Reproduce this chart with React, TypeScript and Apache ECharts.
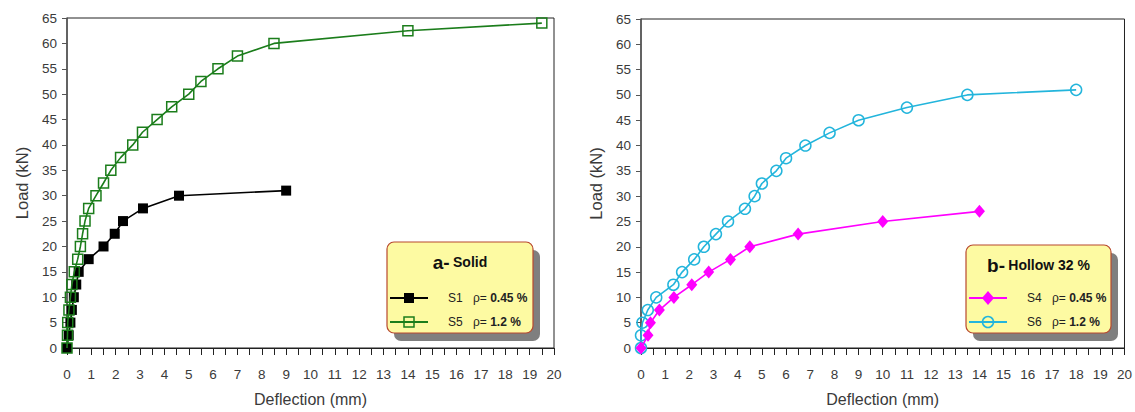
import React, { useEffect, useRef } from "react";
import * as echarts from "echarts";

// ---- Data ----
const s1Deflection = [0, 0.07, 0.14, 0.2, 0.28, 0.38, 0.48, 0.89, 1.5, 1.96, 2.3, 3.12, 4.6, 9.0];
const s1Load = [0, 2.5, 5, 7.5, 10, 12.5, 15, 17.5, 20, 22.5, 25, 27.5, 30, 31];

const s5Deflection = [0, 0.02, 0.03, 0.08, 0.14, 0.2, 0.3, 0.44, 0.55, 0.64, 0.74, 0.89, 1.19, 1.5, 1.8, 2.2, 2.7, 3.1, 3.7, 4.3, 5.0, 5.5, 6.2, 7.0, 8.5, 14.0, 19.5];
const s5Load = [0, 2.5, 5, 7.5, 10, 12.5, 15, 17.5, 20, 22.5, 25, 27.5, 30, 32.5, 35, 37.5, 40, 42.5, 45, 47.5, 50, 52.5, 55, 57.5, 60, 62.5, 64];

const s4Deflection = [0, 0.29, 0.39, 0.76, 1.36, 2.1, 2.8, 3.7, 4.5, 6.5, 10.0, 14.0];
const s4Load = [0, 2.5, 5, 7.5, 10, 12.5, 15, 17.5, 20, 22.5, 25, 27];

const s6Deflection = [0, 0, 0.06, 0.28, 0.63, 1.34, 1.7, 2.2, 2.6, 3.1, 3.6, 4.3, 4.7, 5.0, 5.6, 6.0, 6.8, 7.8, 9.0, 11.0, 13.5, 18.0];
const s6Load = [0, 2.5, 5, 7.5, 10, 12.5, 15, 17.5, 20, 22.5, 25, 27.5, 30, 32.5, 35, 37.5, 40, 42.5, 45, 47.5, 50, 51];

const panelTitlesLetter = ["a-", "b-"];
const panelTitlesText = ["Solid", "Hollow 32 %"];
const seriesNamesA = ["S1", "S5"];
const seriesNamesB = ["S4", "S6"];
const ratios = ["0.45 %", "1.2 %"];

const xAxisName = "Deflection (mm)";
const yAxisName = "Load (kN)";

const pairs = (xs: number[], ys: number[]) => xs.map((x, i) => [x, ys[i]]);

const BLACK = "#000000";
const GREEN = "#1b7d1b";
const MAGENTA = "#ff00ff";
const CYAN = "#23b5dc";
const BOX_FILL = "#fdfaa2";
const BOX_BORDER = "#b8482e";
const LABEL = "#3a3a3a";
const FONT = "Liberation Sans, Arial, sans-serif";

function makeXAxis(gridIndex: number) {
  return {
    type: "value",
    gridIndex,
    min: 0,
    max: 20,
    interval: 1,
    name: xAxisName,
    nameLocation: "middle",
    nameGap: 43,
    nameTextStyle: { fontSize: 16, color: LABEL, fontFamily: FONT },
    axisLine: { show: true, lineStyle: { color: "#222", width: 1 } },
    axisTick: { show: true, inside: false, length: 7, lineStyle: { color: "#222" } },
    minorTick: { show: true, splitNumber: 2, length: 7, lineStyle: { color: "#222" } },
    axisLabel: { fontSize: 13.5, color: LABEL, margin: 19, fontFamily: FONT },
    splitLine: { show: false },
  };
}

function makeYAxis(gridIndex: number) {
  return {
    type: "value",
    gridIndex,
    min: 0,
    max: 65,
    interval: 5,
    name: yAxisName,
    nameLocation: "middle",
    nameGap: 37,
    nameTextStyle: { fontSize: 16.5, color: LABEL, fontFamily: FONT },
    axisLine: { show: true, lineStyle: { color: "#555", width: 1.5 } },
    axisTick: { show: true, inside: false, length: 5, lineStyle: { color: "#555" } },
    axisLabel: { fontSize: 13.5, color: LABEL, margin: 10, fontFamily: FONT },
    splitLine: { show: false },
  };
}

function legendBox(
  x: number,
  y: number,
  w: number,
  h: number,
  letter: string,
  title: string,
  names: string[],
  markers: any[]
) {
  const rows = [298, 322];
  const children: any[] = [
    {
      type: "rect",
      shape: { x: x + 7, y: y + 8, width: w, height: h, r: 7 },
      style: { fill: "#7f7f7f" },
    },
    {
      type: "rect",
      shape: { x, y, width: w, height: h, r: 7 },
      style: { fill: BOX_FILL, stroke: BOX_BORDER, lineWidth: 1.2 },
    },
    {
      type: "text",
      x: x + w / 2,
      y: y + 20,
      style: {
        text: `{l|${letter}} {t|${title}}`,
        align: "center",
        verticalAlign: "middle",
        rich: {
          l: { fontSize: 19, fontWeight: "bold", fill: "#111", fontFamily: FONT },
          t: { fontSize: 14, fontWeight: "bold", fill: "#111", fontFamily: FONT },
        },
      },
    },
  ];
  rows.forEach((ry, i) => {
    const m = markers[i];
    children.push({
      type: "line",
      shape: { x1: x + 3, y1: ry, x2: x + 41, y2: ry },
      style: { stroke: m.color, lineWidth: 2 },
    });
    children.push(m.shape(x + 22, ry));
    children.push({
      type: "text",
      x: x + 61,
      y: ry,
      style: {
        text: names[i],
        verticalAlign: "middle",
        fontSize: 12,
        fill: "#222",
        fontFamily: FONT,
      },
    });
    children.push({
      type: "text",
      x: x + 86,
      y: ry,
      style: {
        text: `{a|ρ=} {b|${ratios[i]}}`,
        verticalAlign: "middle",
        rich: {
          a: { fontSize: 12, fill: "#222", fontFamily: FONT },
          b: { fontSize: 12, fontWeight: "bold", fill: "#222", fontFamily: FONT },
        },
      },
    });
  });
  return { type: "group", children };
}

export default function App() {
  const ref = useRef<HTMLDivElement>(null);

  useEffect(() => {
    if (!ref.current) return;
    const chart = echarts.init(ref.current, undefined, { renderer: "svg" });

    const option: any = {
      animation: false,
      backgroundColor: "#ffffff",
      grid: [
        { left: 67, top: 18, width: 487, height: 337, show: true, borderColor: "#222", borderWidth: 1, backgroundColor: "transparent" },
        { left: 641, top: 19, width: 486, height: 335, show: true, borderColor: "#222", borderWidth: 1, backgroundColor: "transparent" },
      ],
      xAxis: [makeXAxis(0), makeXAxis(1)],
      yAxis: [makeYAxis(0), makeYAxis(1)],
      series: [
        {
          name: seriesNamesA[0],
          type: "line",
          xAxisIndex: 0,
          yAxisIndex: 0,
          data: pairs(s1Deflection, s1Load),
          symbol: "rect",
          symbolSize: 10,
          lineStyle: { color: BLACK, width: 1.6 },
          itemStyle: { color: BLACK },
          z: 3,
        },
        {
          name: seriesNamesA[1],
          type: "line",
          xAxisIndex: 0,
          yAxisIndex: 0,
          data: pairs(s5Deflection, s5Load),
          symbol: "rect",
          symbolSize: 10,
          showAllSymbol: true,
          lineStyle: { color: GREEN, width: 1.6 },
          itemStyle: { color: "rgba(0,0,0,0)", borderColor: GREEN, borderWidth: 1.5 },
          z: 4,
        },
        {
          name: seriesNamesB[0],
          type: "line",
          xAxisIndex: 1,
          yAxisIndex: 1,
          data: pairs(s4Deflection, s4Load),
          symbol: "diamond",
          symbolSize: [11, 13],
          lineStyle: { color: MAGENTA, width: 1.6 },
          itemStyle: { color: MAGENTA },
          z: 4,
        },
        {
          name: seriesNamesB[1],
          type: "line",
          xAxisIndex: 1,
          yAxisIndex: 1,
          data: pairs(s6Deflection, s6Load),
          symbol: "circle",
          symbolSize: 11,
          showAllSymbol: true,
          lineStyle: { color: CYAN, width: 1.6 },
          itemStyle: { color: "rgba(0,0,0,0)", borderColor: CYAN, borderWidth: 1.5 },
          z: 3,
        },
      ],
      graphic: [
        legendBox(387, 242, 146, 91, panelTitlesLetter[0], panelTitlesText[0], seriesNamesA, [
          {
            color: BLACK,
            shape: (cx: number, cy: number) => ({
              type: "rect",
              shape: { x: cx - 5, y: cy - 5, width: 10, height: 10 },
              style: { fill: BLACK },
            }),
          },
          {
            color: GREEN,
            shape: (cx: number, cy: number) => ({
              type: "rect",
              shape: { x: cx - 5, y: cy - 5, width: 10, height: 10 },
              style: { fill: "none", stroke: GREEN, lineWidth: 1.5 },
            }),
          },
        ]),
        legendBox(966, 245, 145, 88, panelTitlesLetter[1], panelTitlesText[1], seriesNamesB, [
          {
            color: MAGENTA,
            shape: (cx: number, cy: number) => ({
              type: "polygon",
              shape: { points: [[cx, cy - 7], [cx + 6, cy], [cx, cy + 7], [cx - 6, cy]] },
              style: { fill: MAGENTA },
            }),
          },
          {
            color: CYAN,
            shape: (cx: number, cy: number) => ({
              type: "circle",
              shape: { cx, cy, r: 5.5 },
              style: { fill: "none", stroke: CYAN, lineWidth: 1.5 },
            }),
          },
        ]),
      ],
    };

    chart.setOption(option);
    return () => chart.dispose();
  }, []);

  return (
    <div
      ref={ref}
      style={{ position: "fixed", left: 0, top: 0, width: 1135, height: 412, background: "#fff" }}
    />
  );
}
